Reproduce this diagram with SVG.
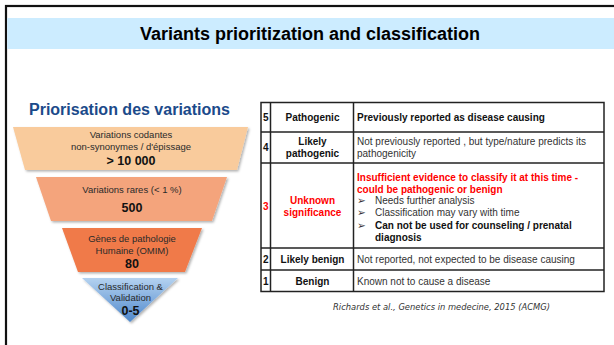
<svg xmlns="http://www.w3.org/2000/svg" width="614" height="345" viewBox="0 0 614 345">
  <defs>
    <style>
      .sans { font-family: "Liberation Sans", Arial, sans-serif; }
      .title { font-family: "Liberation Sans", Arial, sans-serif; font-size: 18px; font-weight: bold; fill: #000; }
      .ftxt { font-family: "Liberation Sans", Arial, sans-serif; font-size: 9.5px; fill: #2a2a2a; text-anchor: middle; }
      .fnum { font-family: "Liberation Sans", Arial, sans-serif; font-size: 12.5px; font-weight: bold; fill: #111; text-anchor: middle; }
      .cell { font-family: "Liberation Sans", Arial, sans-serif; font-size: 10px; fill: #333; }
      .bold { font-weight: bold; fill: #111; }
      .red { fill: #FF0000; font-weight: bold; }
      .mid { text-anchor: middle; }
      .grid { stroke: #222; stroke-width: 1.5; fill: none; }
      .bullet { font-family: "DejaVu Sans", sans-serif; font-size: 10.5px; fill: #333; }
    </style>
    <linearGradient id="blueGrad" x1="0" y1="0" x2="0" y2="1">
      <stop offset="0" stop-color="#B4D2F0"/>
      <stop offset="1" stop-color="#4F88CC"/>
    </linearGradient>
    <filter id="shadow" x="-10%" y="-10%" width="125%" height="130%">
      <feDropShadow dx="1.5" dy="1.5" stdDeviation="1" flood-color="#000" flood-opacity="0.3"/>
    </filter>
  </defs>

  <rect width="614" height="345" fill="#FFFFFF"/>

  <!-- slide frame and header band -->
  <rect x="6" y="6" width="640" height="360" fill="none" stroke="#111" stroke-width="2.2"/>
  <rect x="7.2" y="18" width="607" height="31" fill="#CCECFF"/>
  <text class="title" x="310" y="40" text-anchor="middle">Variants prioritization and classification</text>

  <!-- funnel -->
  <text class="sans" x="29" y="115" font-size="16" font-weight="bold" fill="#1B4A8A">Priorisation des variations</text>

  <g id="funnel-1">
    <polygon points="13,127 248,127 237,170 25,170" fill="#F9CB9C" filter="url(#shadow)"/>
    <text class="ftxt" x="131" y="138">Variations codantes</text>
    <text class="ftxt" x="131" y="150">non-synonymes / d'épissage</text>
    <text class="fnum" x="131" y="165">&gt; 10 000</text>
  </g>

  <g id="funnel-2">
    <polygon points="36,177 227,177 212,221 51,221" fill="#F4A47C" filter="url(#shadow)"/>
    <text class="ftxt" x="132" y="193">Variations rares (&lt; 1 %)</text>
    <text class="fnum" x="132" y="212">500</text>
  </g>

  <g id="funnel-3">
    <polygon points="62,228 202,228 185,272 78,272" fill="#F07A4A" filter="url(#shadow)"/>
    <text class="ftxt" x="132" y="242">Gènes de pathologie</text>
    <text class="ftxt" x="132" y="254">Humaine (OMIM)</text>
    <text class="fnum" x="132" y="268">80</text>
  </g>

  <g id="funnel-4">
    <polygon points="82,278 178,278 130,322" fill="url(#blueGrad)" filter="url(#shadow)"/>
    <text class="ftxt" x="130.5" y="290" font-size="9">Classification &amp;</text>
    <text class="ftxt" x="130.5" y="301" font-size="9">Validation</text>
    <text class="fnum" x="130.5" y="315">0-5</text>
  </g>

  <!-- classification table -->
  <g id="table">
    <rect class="grid" x="261" y="102.5" width="343" height="189"/>
    <line class="grid" x1="270.5" y1="102.5" x2="270.5" y2="291.5"/>
    <line class="grid" x1="353.5" y1="102.5" x2="353.5" y2="291.5"/>
    <line class="grid" x1="261" y1="132" x2="604" y2="132"/>
    <line class="grid" x1="261" y1="163" x2="604" y2="163"/>
    <line class="grid" x1="261" y1="248" x2="604" y2="248"/>
    <line class="grid" x1="261" y1="270" x2="604" y2="270"/>

    <g id="row-5">
      <text class="cell bold mid" x="265.7" y="121">5</text>
      <text class="cell bold mid" x="312.5" y="121">Pathogenic</text>
      <text class="cell bold" x="357" y="121">Previously reported as disease causing</text>
    </g>

    <g id="row-4">
      <text class="cell bold mid" x="265.7" y="151">4</text>
      <text class="cell bold mid" x="312.5" y="144.5">Likely</text>
      <text class="cell bold mid" x="312.5" y="157">pathogenic</text>
      <text class="cell" x="357" y="144.5">Not previously reported , but type/nature predicts its</text>
      <text class="cell" x="357" y="157">pathogenicity</text>
    </g>

    <g id="row-3">
      <text class="cell red mid" x="265.7" y="210">3</text>
      <text class="cell red mid" x="312.5" y="204">Unknown</text>
      <text class="cell red mid" x="312.5" y="216">significance</text>
      <text class="cell red" x="357" y="181">Insufficient evidence to classify it at this time -</text>
      <text class="cell red" x="357" y="192.5">could be pathogenic or benign</text>
      <text class="bullet" x="357" y="204">➢</text>
      <text class="cell" x="375" y="204">Needs further analysis</text>
      <text class="bullet" x="357" y="215.5">➢</text>
      <text class="cell" x="375" y="215.5">Classification may vary with time</text>
      <text class="bullet" x="357" y="229">➢</text>
      <text class="cell bold" x="375" y="229">Can not be used for counseling / prenatal</text>
      <text class="cell bold" x="375" y="241">diagnosis</text>
    </g>

    <g id="row-2">
      <text class="cell bold mid" x="265.7" y="263">2</text>
      <text class="cell bold mid" x="312.5" y="263">Likely benign</text>
      <text class="cell" x="357" y="263">Not reported, not expected to be disease causing</text>
    </g>

    <g id="row-1">
      <text class="cell bold mid" x="265.7" y="284.5">1</text>
      <text class="cell bold mid" x="312.5" y="284.5">Benign</text>
      <text class="cell" x="357" y="284.5">Known not to cause a disease</text>
    </g>
  </g>

  <text x="333" y="310" font-family="'DejaVu Sans', sans-serif" font-style="italic" font-size="8.5" fill="#333" textLength="217" lengthAdjust="spacingAndGlyphs">Richards et al., Genetics in medecine, 2015 (ACMG)</text>
</svg>
